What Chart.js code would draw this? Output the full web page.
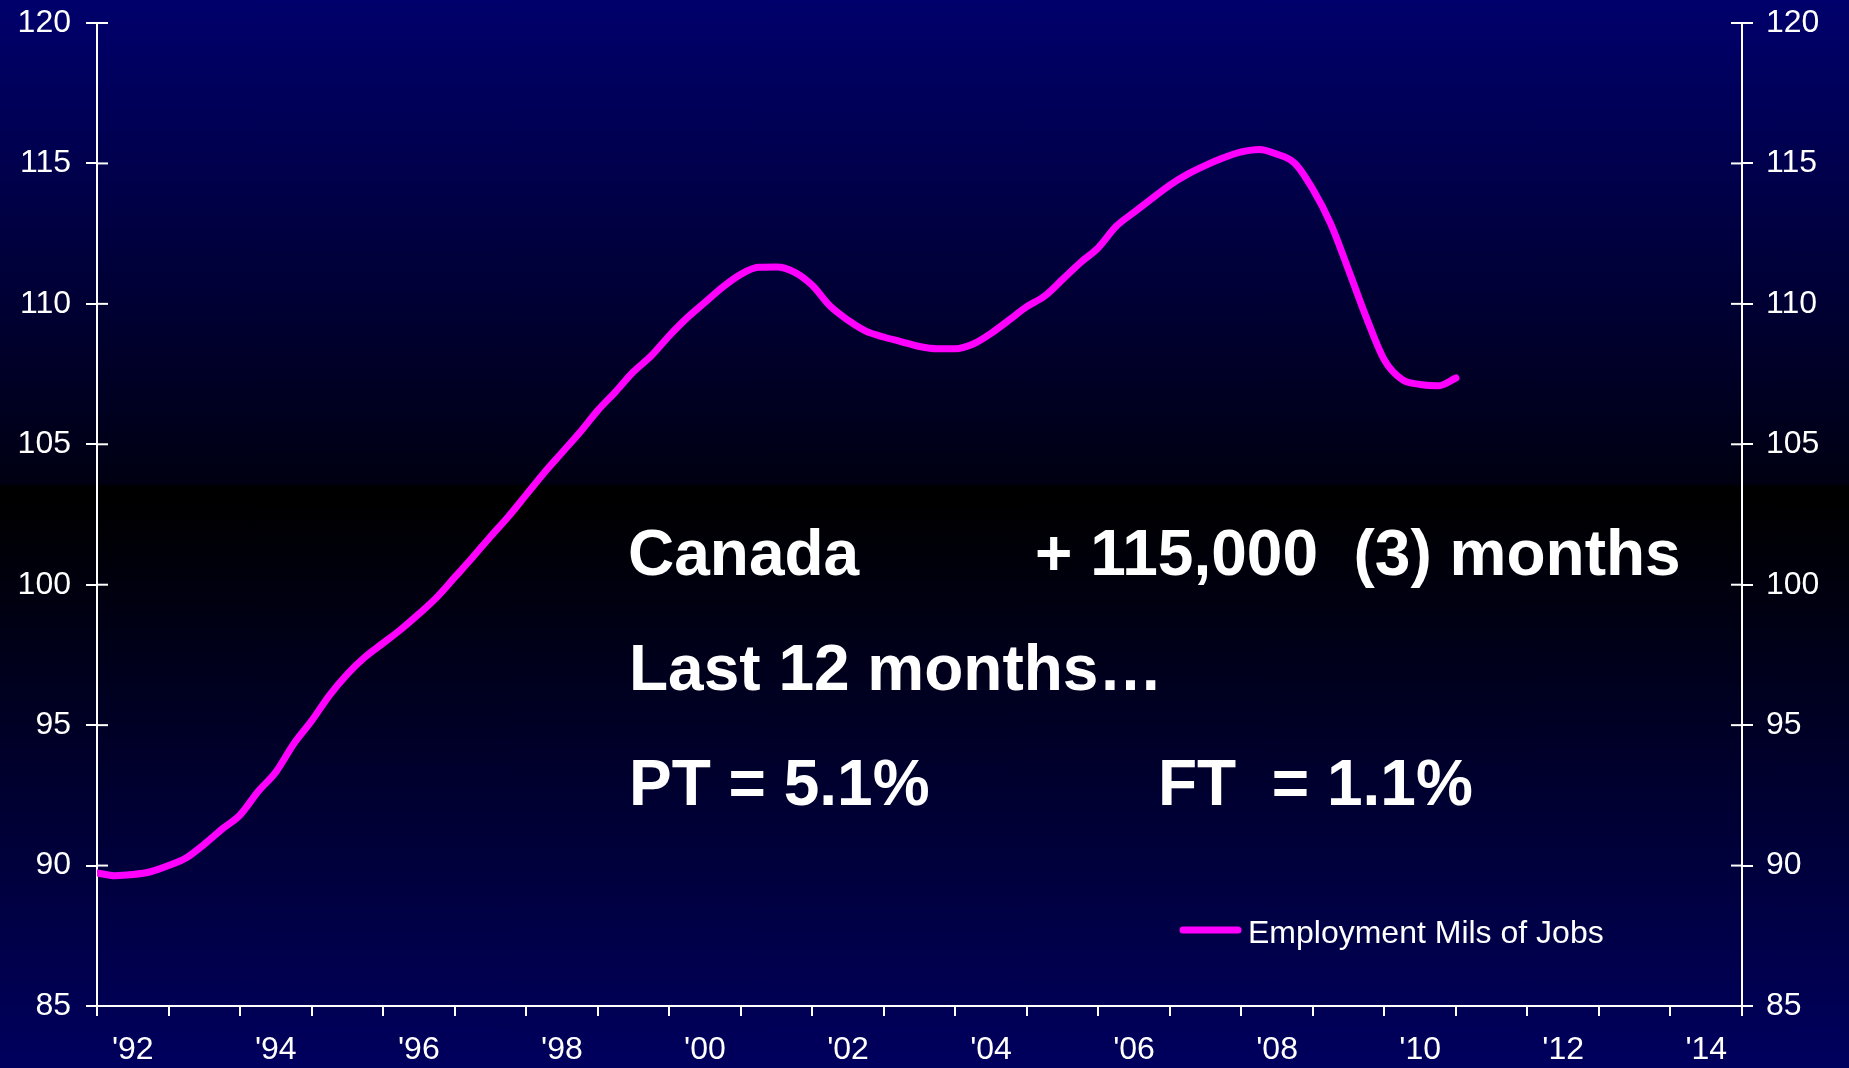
<!DOCTYPE html>
<html>
<head>
<meta charset="utf-8">
<script src="https://cdn.jsdelivr.net/npm/chart.js@4/dist/chart.umd.min.js"></script>
<style>
  html, body { margin: 0; padding: 0; }
  body {
    width: 1849px; height: 1068px; overflow: hidden;
    background: linear-gradient(to bottom, #00006c 0%, #000012 45.3%, #000000 45.5%, #000000 46.8%, #00005e 100%);
  }
  #wrap { position: absolute; left: 0; top: 0; width: 1849px; height: 1068px; }
  .note {
    position: absolute; color: #fff; white-space: pre;
    font: bold 64px "Liberation Sans", Arial, sans-serif; line-height: 64px;
  }
</style>
</head>
<body>
<div id="wrap"><canvas id="myChart"></canvas></div>
<div class="note" style="left:628px; top:521px;">Canada</div>
<div class="note" style="left:1035px; top:521px;">+ 115,000  (3) months</div>
<div class="note" style="left:629px; top:636px;">Last 12 months…</div>
<div class="note" style="left:629px; top:751px;">PT = 5.1%</div>
<div class="note" style="left:1158px; top:751px;">FT  = 1.1%</div>
<script>
// quarter positions (decimal years) and the employment index
const quarters = [
  1992.00, 1992.25, 1992.50, 1992.75, 1993.00, 1993.25, 1993.50, 1993.75,
  1994.00, 1994.25, 1994.50, 1994.75, 1995.00, 1995.25, 1995.50, 1995.75,
  1996.00, 1996.25, 1996.50, 1996.75, 1997.00, 1997.25, 1997.50, 1997.75,
  1998.00, 1998.25, 1998.50, 1998.75, 1999.00, 1999.25, 1999.50, 1999.75,
  2000.00, 2000.25, 2000.50, 2000.75, 2001.00, 2001.25, 2001.50, 2001.75,
  2002.00, 2002.25, 2002.50, 2002.75, 2003.00, 2003.25, 2003.50, 2003.75,
  2004.00, 2004.25, 2004.50, 2004.75, 2005.00, 2005.25, 2005.50, 2005.75,
  2006.00, 2006.25, 2006.50, 2006.75, 2007.00, 2007.25, 2007.50, 2007.75,
  2008.00, 2008.25, 2008.50, 2008.75, 2009.00, 2009.25, 2009.50, 2009.75,
  2010.00, 2010.25, 2010.50, 2010.75, 2011.00
]
const employment = [
  89.74, 89.64, 89.68, 89.78, 90.00, 90.28, 90.76, 91.30,
  91.80, 92.63, 93.33, 94.33, 95.15, 96.06, 96.82, 97.43,
  97.92, 98.41, 98.96, 99.55, 100.26, 100.97, 101.71, 102.42,
  103.20, 103.98, 104.70, 105.42, 106.20, 106.87, 107.58, 108.15,
  108.86, 109.50, 110.05, 110.60, 111.05, 111.30, 111.31, 111.13,
  110.66, 109.92, 109.42, 109.03, 108.82, 108.65, 108.48, 108.40,
  108.40, 108.57, 108.95, 109.42, 109.90, 110.28, 110.87, 111.47,
  112.00, 112.76, 113.26, 113.75, 114.23, 114.62, 114.93, 115.20,
  115.41, 115.50, 115.33, 115.00, 114.08, 112.85, 111.20, 109.50,
  108.00, 107.30, 107.13, 107.08, 107.36
]
const seriesName = 'Employment Mils of Jobs'
const yTicks = [85, 90, 95, 100, 105, 110, 115, 120]
const yearLabels = ["'92", "'94", "'96", "'98", "'00", "'02", "'04", "'06", "'08", "'10", "'12", "'14"]

const white = '#ffffff'
const tickFont = { family: '"Liberation Sans", Arial, sans-serif', size: 32 }

// tick marks that cross to the inside of both y axes, plus the legend
const extras = {
    id: 'extras',
    afterDraw(chart) {
        const c = chart.ctx
        const area = chart.chartArea
        c.save()
        c.strokeStyle = white
        c.lineWidth = 2
        ;[['y', area.left, 1], ['y1', area.right, -1]].forEach(([id, x0, dir]) => {
            const s = chart.scales[id]
            s.ticks.forEach(t => {
                const py = s.getPixelForValue(t.value)
                c.beginPath()
                c.moveTo(x0, py)
                c.lineTo(x0 + dir * 11, py)
                c.stroke()
            })
        })

        const ds = chart.data.datasets[0]
        c.strokeStyle = ds.borderColor
        c.lineWidth = 7
        c.lineCap = 'round'
        c.beginPath()
        c.moveTo(1183, 930)
        c.lineTo(1238, 930)
        c.stroke()
        c.fillStyle = white
        c.font = '32px "Liberation Sans", Arial, sans-serif'
        c.textBaseline = 'alphabetic'
        c.fillText(ds.label, 1248, 943)
        c.restore()
    }
}

const yAxis = (pos, pad, width) => ({
    type: 'linear',
    position: pos,
    min: 85,
    max: 120,
    afterBuildTicks: s => { s.ticks = yTicks.map(v => ({ value: v })) },
    afterFit: s => {
        s.width = width
        s.paddingTop = 0
        s.paddingBottom = 0
    },
    border: { color: white, width: 2 },
    grid: { drawOnChartArea: false, color: white, lineWidth: 2, tickLength: 11 },
    ticks: { color: white, font: tickFont, padding: pad }
})

const ctx = document.getElementById('myChart').getContext('2d')
const myChart = new Chart(ctx, {
    type: 'line',
    data: {
        datasets: [{
            label: seriesName,
            data: quarters.map((q, i) => ({ x: q, y: employment[i] })),
            borderColor: '#ff00ff',
            borderWidth: 7,
            borderCapStyle: 'round',
            borderJoinStyle: 'round',
            pointRadius: 0,
            tension: 0.3,
            cubicInterpolationMode: 'monotone'
        }]
    },
    options: {
        responsive: true,
        maintainAspectRatio: false,
        animation: false,
        layout: { padding: { top: 23, left: 0, right: 0, bottom: 0 } },
        plugins: { legend: { display: false }, tooltip: { enabled: false } },
        scales: {
            x: {
                type: 'linear',
                min: 1992,
                max: 2015,
                afterBuildTicks: s => {
                    // year boundaries get a tick mark, mid-years carry the labels
                    const t = []
                    for (let yr = 1992; yr <= 2015; yr++) {
                        t.push({ value: yr })
                        if (yr < 2015) t.push({ value: yr + 0.5 })
                    }
                    s.ticks = t
                },
                afterFit: s => { s.height = 62 },
                border: { color: white, width: 2 },
                grid: {
                    drawOnChartArea: false,
                    lineWidth: 2,
                    tickLength: 10,
                    color: c => (c.tick && c.tick.value % 1 === 0) ? white : 'rgba(0,0,0,0)'
                },
                ticks: {
                    color: white,
                    font: tickFont,
                    padding: 15,
                    autoSkip: false,
                    maxRotation: 0,
                    callback: v => {
                        if (v % 1 === 0) return ''
                        const idx = (Math.floor(v) - 1992) / 2
                        return Number.isInteger(idx) ? yearLabels[idx] : ''
                    }
                }
            },
            y: yAxis('left', 15, 97),
            y1: yAxis('right', 13, 107)
        }
    },
    plugins: [extras]
})
</script>
</body>
</html>
